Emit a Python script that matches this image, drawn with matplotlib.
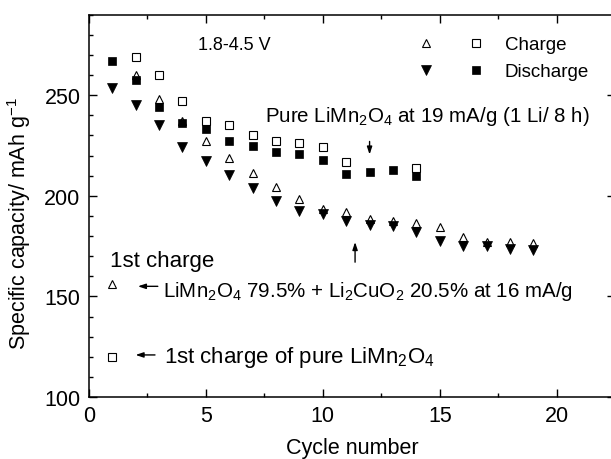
import numpy as np
import matplotlib
matplotlib.use('Agg')
import matplotlib.pyplot as plt
from matplotlib.legend_handler import HandlerTuple
from matplotlib.ticker import MultipleLocator

plt.rcParams['font.family'] = ['Liberation Sans', 'DejaVu Sans']
plt.rcParams['mathtext.fontset'] = 'custom'
plt.rcParams['mathtext.rm'] = 'Liberation Sans'
plt.rcParams['mathtext.it'] = 'Liberation Sans:italic'
plt.rcParams['mathtext.bf'] = 'Liberation Sans:bold'

# LiMn2O4 79.5% + Li2CuO2 20.5% (triangles)
cycles = np.arange(1, 20)
mix_charge = [156, 260, 248, 237, 227, 219, 211.5, 204.5, 198.5, 193.5,
              191.7, 188.6, 187.6, 186.4, 184.3, 179.5, 176.8, 177.2, 176.7]
mix_discharge = [253.5, 245, 235, 224, 217.4, 210.5, 203.7, 197.2, 192.3, 190.7,
                 187.3, 185.6, 184.8, 181.9, 177.7, 175.2, 175.0, 173.5, 173.2]

# pure LiMn2O4 (squares)
pure_cycles = np.arange(1, 15)
pure_charge = [120, 269, 260, 247, 237.3, 235, 230.4, 227, 226, 224,
               217, np.nan, np.nan, 214]
pure_discharge = [267, 257.5, 244, 236, 233, 227, 224.8, 222, 221, 218,
                  211, 212, 213, 210]

fig = plt.figure(figsize=(6.11, 4.60), dpi=100)
ax = fig.add_axes([0.1453, 0.1348, 0.8617, 0.8311])

h_mc, = ax.plot(cycles, mix_charge, ls='none', marker='^', ms=6, mfc='white', mec='k', mew=0.8)
h_md, = ax.plot(cycles, mix_discharge, ls='none', marker='v', ms=6.5, mfc='k', mec='k', mew=0.5)
h_pc, = ax.plot(pure_cycles, pure_charge, ls='none', marker='s', ms=5.3, mfc='white', mec='k', mew=0.8)
h_pd, = ax.plot(pure_cycles, pure_discharge, ls='none', marker='s', ms=5.8, mfc='k', mec='k', mew=0.5)

ax.set_xlim(0, 22.5)
ax.set_ylim(100, 290)
ax.xaxis.set_major_locator(MultipleLocator(5))
ax.xaxis.set_minor_locator(MultipleLocator(2.5))
ax.yaxis.set_major_locator(MultipleLocator(50))
ax.yaxis.set_minor_locator(MultipleLocator(10))
ax.tick_params(which='both', direction='in', top=True, right=True, width=1, labelsize=15.5, pad=6)
ax.tick_params(which='major', length=6)
ax.tick_params(which='minor', length=3)
for s in ax.spines.values():
    s.set_linewidth(1.1)

ax.set_xlabel('Cycle number', fontsize=15.5, labelpad=8)
ax.set_ylabel('Specific capacity/ mAh g$^{-1}$', fontsize=15.5)
ax.yaxis.set_label_coords(-0.106, 0.455)

ax.legend([(h_mc, h_pc), (h_md, h_pd)], ['Charge', 'Discharge'],
          handler_map={tuple: HandlerTuple(ndivide=None, pad=0.75)},
          handlelength=4.59, handletextpad=0.6, frameon=False,
          loc='upper left', bbox_to_anchor=(0.6057, 0.9435),
          borderaxespad=0, borderpad=0, labelspacing=0.53, fontsize=13.5)

fs = 14.8
ax.text(4.68, 275.2, '1.8-4.5 V', fontsize=13, ha='left', va='center')
ax.text(7.53, 237.3, 'Pure LiMn$_2$O$_4$ at 19 mA/g (1 Li/ 8 h)', fontsize=fs, va='baseline')
ax.text(0.91, 165.2, '1st charge', fontsize=16, va='baseline')
ax.text(3.18, 150.4, 'LiMn$_2$O$_4$ 79.5% + Li$_2$CuO$_2$ 20.5% at 16 mA/g', fontsize=fs, va='baseline')
ax.text(3.21, 117.2, '1st charge of pure LiMn$_2$O$_4$', fontsize=16, va='baseline')

arrow = dict(arrowstyle='-|>,head_length=0.45,head_width=0.15', color='k', lw=1.0,
             mutation_scale=10, shrinkA=0, shrinkB=0)
ax.annotate('', xy=(12, 220.5), xytext=(12, 227), arrowprops=arrow)
ax.annotate('', xy=(11.38, 177), xytext=(11.38, 167), arrowprops=arrow)
ax.annotate('', xy=(2.1, 155), xytext=(2.95, 155), arrowprops=arrow)
ax.annotate('', xy=(2.0, 120.9), xytext=(2.83, 120.9), arrowprops=arrow)

plt.savefig('out.png', dpi=100)
